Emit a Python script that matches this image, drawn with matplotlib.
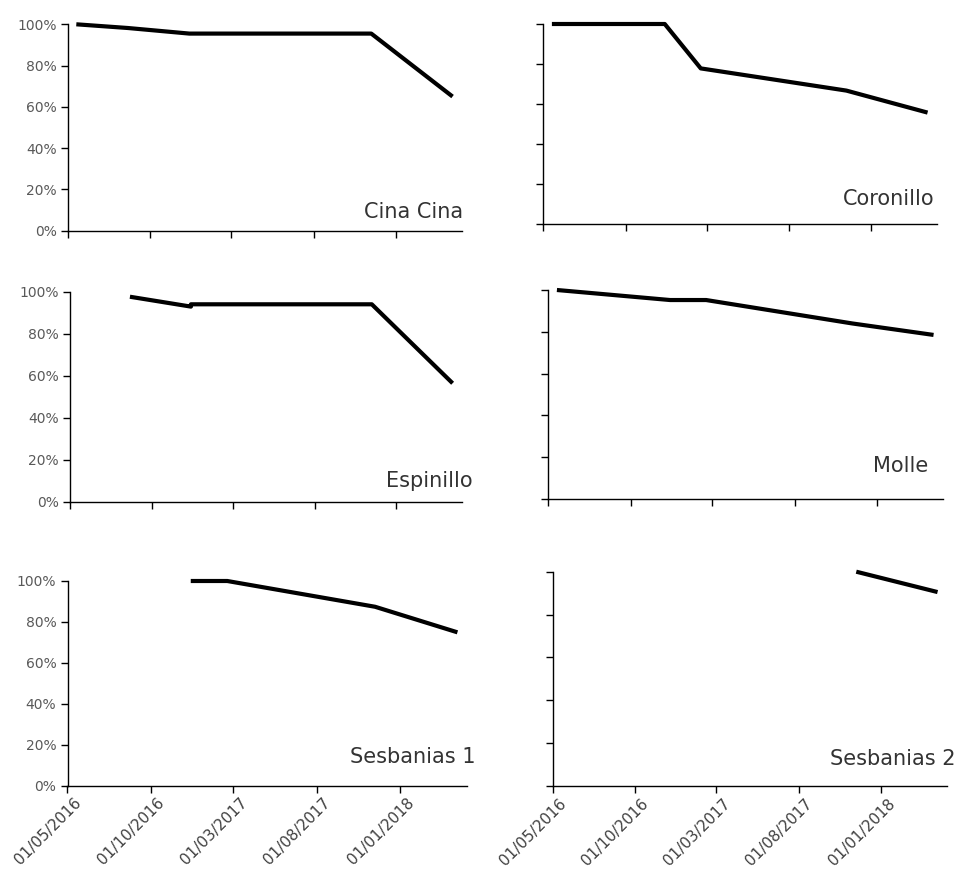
import pandas as pd
import matplotlib
matplotlib.use("Agg")
import matplotlib.pyplot as plt
from matplotlib.transforms import ScaledTranslation

#%% data (survival fraction per species)
cina_cina_dates = ["2016-05-17", "2016-08-21", "2016-12-13", "2017-11-16", "2018-04-16"]
cina_cina_vals = [1.00, 0.982, 0.955, 0.955, 0.65]

coronillo_dates = ["2016-05-17", "2016-12-13", "2017-02-18", "2017-11-16", "2018-04-16"]
coronillo_vals = [1.00, 1.00, 0.778, 0.667, 0.557]

espinillo_dates = ["2016-08-21", "2016-12-13", "2016-12-13", "2017-11-16", "2018-04-16"]
espinillo_vals = [0.976, 0.929, 0.94, 0.94, 0.564]

molle_dates = ["2016-05-17", "2016-12-13", "2017-02-18", "2017-11-16", "2018-04-16"]
molle_vals = [1.00, 0.952, 0.952, 0.84, 0.785]

sesb1_dates = ["2016-12-13", "2017-02-18", "2017-11-16", "2018-04-16"]
sesb1_vals = [1.00, 1.00, 0.874, 0.749]

sesb2_dates = ["2017-11-16", "2018-04-16"]
sesb2_vals = [1.00, 0.905]

tick_dates = ["2016-05-01", "2016-10-01", "2017-03-01", "2017-08-01", "2018-01-01"]
tick_labels = ["01/05/2016", "01/10/2016", "01/03/2017", "01/08/2017", "01/01/2018"]
y_ticks = [0, 0.2, 0.4, 0.6, 0.8, 1.0]
y_labels = ["0%", "20%", "40%", "60%", "80%", "100%"]

#%% panel boxes in pixels: x0, x1, ytop, ybottom ; label right edge, baseline
W, H = 959, 869
panels = [
    ("Cina Cina", cina_cina_dates, cina_cina_vals, (67.7, 461.7, 24.3, 230.7), (463, 218), True, False),
    ("Coronillo", coronillo_dates, coronillo_vals, (543.3, 936.7, 24.0, 224.0), (935, 205), False, False),
    ("Espinillo", espinillo_dates, espinillo_vals, (70.0, 461.7, 291.7, 501.7), (472.7, 486.7), True, False),
    ("Molle", molle_dates, molle_vals, (548.3, 942.7, 290.0, 499.0), (928, 471.7), False, False),
    ("Sesbanias 1", sesb1_dates, sesb1_vals, (67.5, 466.7, 581.0, 785.5), (475, 763), True, True),
    ("Sesbanias 2", sesb2_dates, sesb2_vals, (552.7, 946.7, 571.7, 786.0), (956, 765), False, True),
]

xmin = pd.Timestamp("2016-05-01")
xmax = pd.Timestamp("2018-05-03")
grey = "#595959"

fig = plt.figure(figsize=(W / 100, H / 100), dpi=100)
shift = ScaledTranslation(0.06, 0.0, fig.dpi_scale_trans)

for name, dates, vals, box, lab, ylab, xlab in panels:
    x0, x1, yt, yb = box
    ax = fig.add_axes([x0 / W, 1 - yb / H, (x1 - x0) / W, (yb - yt) / H])
    ax.plot(pd.to_datetime(dates), vals, color="black", lw=3,
            solid_capstyle="butt", solid_joinstyle="round", clip_on=False)
    ax.set_xlim(xmin, xmax)
    ax.set_ylim(0, 1)
    for s in ["top", "right"]:
        ax.spines[s].set_visible(False)
    for s in ["left", "bottom"]:
        ax.spines[s].set_color("black")
        ax.spines[s].set_linewidth(1)
    ax.set_yticks(y_ticks)
    ax.set_xticks(pd.to_datetime(tick_dates))
    ax.tick_params(axis="both", direction="out", length=5, width=1, color="black",
                   labelcolor=grey, labelsize=10, pad=3)
    ax.tick_params(axis="x", pad=2)
    if ylab:
        ax.set_yticklabels(y_labels)
    else:
        ax.set_yticklabels([])
    if xlab:
        ax.set_xticklabels(tick_labels, rotation=45, ha="right", va="top",
                           rotation_mode="anchor", fontsize=11, color="#404040")
        for t in ax.get_xticklabels():
            t.set_transform(t.get_transform() + shift)
    else:
        ax.set_xticklabels([])
    fig.text(lab[0] / W, 1 - lab[1] / H, name, ha="right", va="baseline",
             fontsize=15, color="#333333")

fig.savefig("out.png", dpi=100, facecolor="white")
